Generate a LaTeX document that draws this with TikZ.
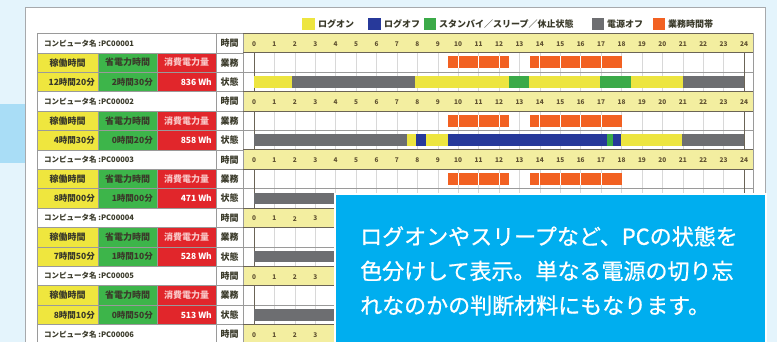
\documentclass[tikz,border=0pt]{standalone}
\usepackage{fontspec}
\newfontfamily\jp{Noto Sans CJK JP}
\newfontfamily\jpnote[FakeBold=0.8]{Noto Sans CJK JP}
\definecolor{fond}{HTML}{E4F4FC}
\definecolor{bandeau}{HTML}{A9DDF6}
\definecolor{cadre}{HTML}{A7A9AC}
\definecolor{logon}{HTML}{EDE540}
\definecolor{logoff}{HTML}{27399A}
\definecolor{standby}{HTML}{3BAA48}
\definecolor{poweroff}{HTML}{6D6E71}
\definecolor{worktime}{HTML}{F26122}
\definecolor{celljaune}{HTML}{EFE63E}
\definecolor{cellvert}{HTML}{3DB54A}
\definecolor{cellrouge}{HTML}{E1262B}
\definecolor{lignetemps}{HTML}{F3EEA0}
\definecolor{encadre}{HTML}{00AEEF}
\definecolor{texte}{HTML}{3A3A2A}
\definecolor{rose}{HTML}{F9C8C8}
\definecolor{heures}{HTML}{5E5030}
\definecolor{gris}{HTML}{9A9A9A}
\definecolor{sombre}{HTML}{6B6456}
\definecolor{grille}{HTML}{D8D8D8}
\begin{document}
\begin{tikzpicture}[x=1pt,y=-1pt,
  cell/.style={font=\jp\bfseries\fontsize{9}{10}\selectfont,text=texte,inner sep=0pt},
  nom/.style={font=\jp\bfseries\fontsize{7.5}{8}\selectfont,text=texte,inner sep=0pt,anchor=west},
  valeur/.style={font=\jp\bfseries\fontsize{8.5}{9}\selectfont,text=texte,inner sep=0pt,anchor=east},
  heure/.style={font=\jp\bfseries\fontsize{6.5}{7}\selectfont,text=heures,inner sep=0pt},
  legende/.style={font=\jp\bfseries\fontsize{9}{10}\selectfont,text=texte,inner sep=0pt,anchor=west},
  fin/.style={draw=gris,line width=0.6pt},
  fort/.style={draw=sombre,line width=1pt},
  trait/.style={draw=grille,line width=0.5pt}]
\useasboundingbox (0,0) rectangle (777,342);
\clip (0,0) rectangle (777,342);
\fill[fond] (0,0) rectangle (777,342); % le fond
\fill[bandeau] (0,104) rectangle (27,163); % le bandeau a gauche
\filldraw[fill=white,draw=cadre,line width=0.8pt] (25.5,7.5) rectangle (765.5,360); % la capture
% la legende
\fill[logon] (302,18) rectangle (315,30);    \node[legende] (lg1) at (318,24) {ログオン};
\fill[logoff] (368,18) rectangle (381,30);   \node[legende] (lg2) at (384,24) {ログオフ};
\fill[standby] (424,18) rectangle (436,30);  \node[legende] (lg3) at (439,24) {スタンバイ／スリープ／休止状態};
\fill[poweroff] (592,18) rectangle (604,30); \node[legende] (lg4) at (607,24) {電源オフ};
\fill[worktime] (653,18) rectangle (665,30); \node[legende] (lg5) at (668,24) {業務時間帯};
% les lignes 業務 et 状態 de chaque PC
\foreach \k/\tA/\tB/\wh in {0/12時間20分/2時間30分/836 Wh,1/4時間30分/0時間20分/858 Wh,2/8時間00分/1時間00分/471 Wh,3/7時間50分/1時間10分/528 Wh,4/8時間10分/0時間50分/513 Wh}{
  \pgfmathsetmacro\ytop{33.5+58.2*\k}
  \fill[celljaune] (37,\ytop+19.4) rectangle (98,\ytop+58.2);
  \fill[cellvert] (98,\ytop+19.4) rectangle (157,\ytop+58.2);
  \fill[cellrouge] (157,\ytop+19.4) rectangle (216,\ytop+58.2);
  \fill[white] (216,\ytop+19.4) rectangle (753,\ytop+58.2);
  \foreach \h in {1,...,23} \draw[trait] ({254+20.42*\h},\ytop+19.4) -- ++(0,38.8);
  \fill[worktime] ({254+20.42*9.5},\ytop+23) rectangle ({254+20.42*12.5},\ytop+35); % 業務
  \fill[worktime] ({254+20.42*13.5},\ytop+23) rectangle ({254+20.42*18},\ytop+35);
  \foreach \h in {10,11,12,14,15,16,17} \draw[white,line width=0.8pt] ({254+20.42*\h},\ytop+23) -- ++(0,12);
  \draw[fin] (37,\ytop+38.8) -- (753,\ytop+38.8);
  \draw[fin] (37,\ytop+58.2) -- (243,\ytop+58.2);
  \foreach \xv in {37,98,157,216,243,753} \draw[fin] (\xv,\ytop+19.4) -- ++(0,38.8);
  \draw[fort] (254,\ytop+19.4) -- ++(0,38.8); % heure 0
  \draw[fort] (744,\ytop+19.4) -- ++(0,38.8); % heure 24
  \node[cell] (kado\k) at (67.5,\ytop+29.1) {稼働時間};
  \node[cell] (sho\k) at (127.5,\ytop+29.1) {省電力時間};
  \node[cell,text=rose] (shohi\k) at (186.5,\ytop+29.1) {消費電力量};
  \node[valeur] (va\k) at (95,\ytop+48.5) {\tA};
  \node[valeur] (vb\k) at (153,\ytop+48.5) {\tB};
  \node[valeur,text=white] (vc\k) at (212,\ytop+48.5) {\wh};
  \node[cell] (gyomu\k) at (229.5,\ytop+29.1) {業務};
  \node[cell] (jotai\k) at (229.5,\ytop+48.5) {状態};
}
% les lignes コンピュータ名 et 時間
\foreach \k/\pc/\hmax in {0/PC00001/24,1/PC00002/24,2/PC00003/24,3/PC00004/3,4/PC00005/3,5/PC00006/3}{
  \pgfmathsetmacro\ytop{33.5+58.2*\k}
  \fill[white] (37,\ytop) rectangle (243,\ytop+19.4);
  \fill[lignetemps] (243,\ytop) rectangle (753,\ytop+19.4);
  \draw[fin] (37,\ytop) rectangle (243,\ytop+19.4);
  \draw[fin] (216,\ytop) -- ++(0,19.4);
  \draw[fin] (753,\ytop) -- ++(0,19.4);
  \draw[fort] (243,\ytop) -- (753,\ytop);
  \draw[fort] (243,\ytop+19.4) -- (753,\ytop+19.4);
  \node[nom] (pc\k) at (44,\ytop+9.7) {コンピュータ名 :\pc};
  \node[cell] (jikan\k) at (229.5,\ytop+9.7) {時間};
  \foreach \h in {0,...,\hmax} \node[heure] at ({254+20.42*\h},\ytop+10.5) {\h}; % les heures visibles
}
% les etats (状態)
\foreach \s/\e/\c in {0/1.85/logon,1.85/7.9/poweroff,7.9/12.5/logon,12.5/13.45/standby,13.45/16.95/logon,16.95/18.47/standby,18.47/21/logon,21/24/poweroff}
  \fill[\c] ({254+20.42*\s},76.3) rectangle ({254+20.42*\e},87.7); % PC00001
\foreach \s/\e/\c in {0/7.47/poweroff,7.47/7.93/logon,7.93/8.42/logoff,8.42/9.48/logon,9.48/17.27/logoff,17.27/17.6/standby,17.6/17.95/logoff,17.95/20.95/logon,20.95/24/poweroff}
  \fill[\c] ({254+20.42*\s},134.5) rectangle ({254+20.42*\e},145.9); % PC00002
\fill[poweroff] (254,192.7) rectangle ({254+20.42*4},204.1); % PC00003
\fill[poweroff] (254,250.9) rectangle ({254+20.42*4},262.3); % PC00004
\fill[poweroff] (254,309.1) rectangle ({254+20.42*4},320.5); % PC00005
% l'encadre bleu
\filldraw[fill=encadre,draw=white,line width=2pt] (335,194) rectangle (766,360);
\node[font=\jpnote\fontsize{22}{34.5}\selectfont,text=white,align=left,anchor=north west,inner sep=0pt] (note) at (360,226) {ログオンやスリープなど、PCの状態を\\色分けして表示。単なる電源の切り忘\\れなのかの判断材料にもなります。};
\end{tikzpicture}
\end{document}
